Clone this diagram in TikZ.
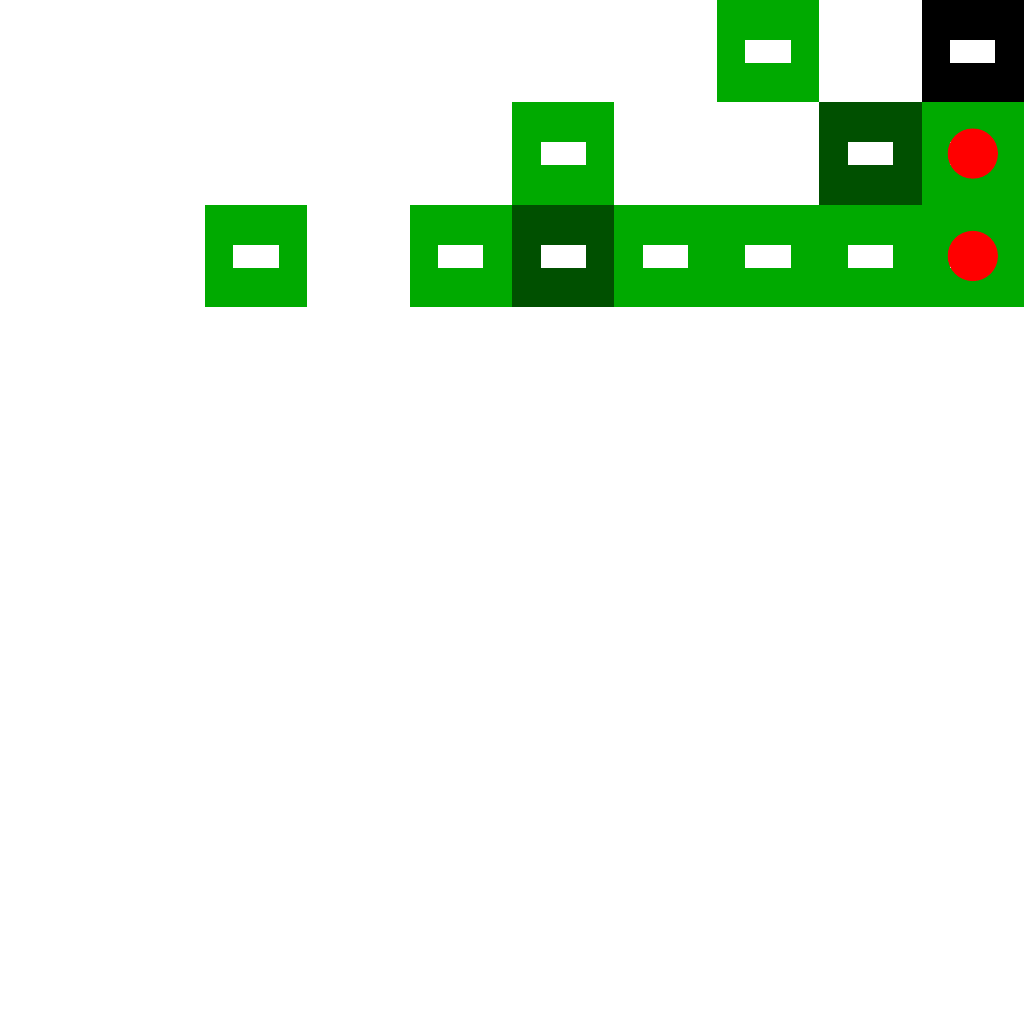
\documentclass[tikz,border=0pt]{standalone}
\definecolor{gr}{RGB}{0,170,0}
\definecolor{dgr}{RGB}{0,80,0}
\definecolor{rd}{RGB}{255,0,0}
\tikzset{
  cellbox/.style={fill=#1},
  hole/.style={fill=white},
  ball/.style={fill=rd}
}
\newcommand{\cellat}[3]{%
  \fill[cellbox=#3] (#1,{9-#2}) rectangle ++(1,1);
  \fill[hole] ({#1+0.28},{9-#2+0.385}) rectangle ++(0.44,0.225);
}
\begin{document}
\begin{tikzpicture}
\useasboundingbox (0,0) rectangle (10,10);
\fill[white] (0,0) rectangle (10,10);
% row 0
\cellat{7}{0}{gr}
\cellat{9}{0}{black}
% row 1
\cellat{5}{1}{gr}
\cellat{8}{1}{dgr}
\cellat{9}{1}{gr}
% row 2
\cellat{2}{2}{gr}
\cellat{4}{2}{gr}
\cellat{5}{2}{dgr}
\cellat{6}{2}{gr}
\cellat{7}{2}{gr}
\cellat{8}{2}{gr}
\cellat{9}{2}{gr}
% red balls
\fill[ball] (9.5,8.5) circle (0.245);
\fill[ball] (9.5,7.5) circle (0.245);
\end{tikzpicture}
\end{document}
